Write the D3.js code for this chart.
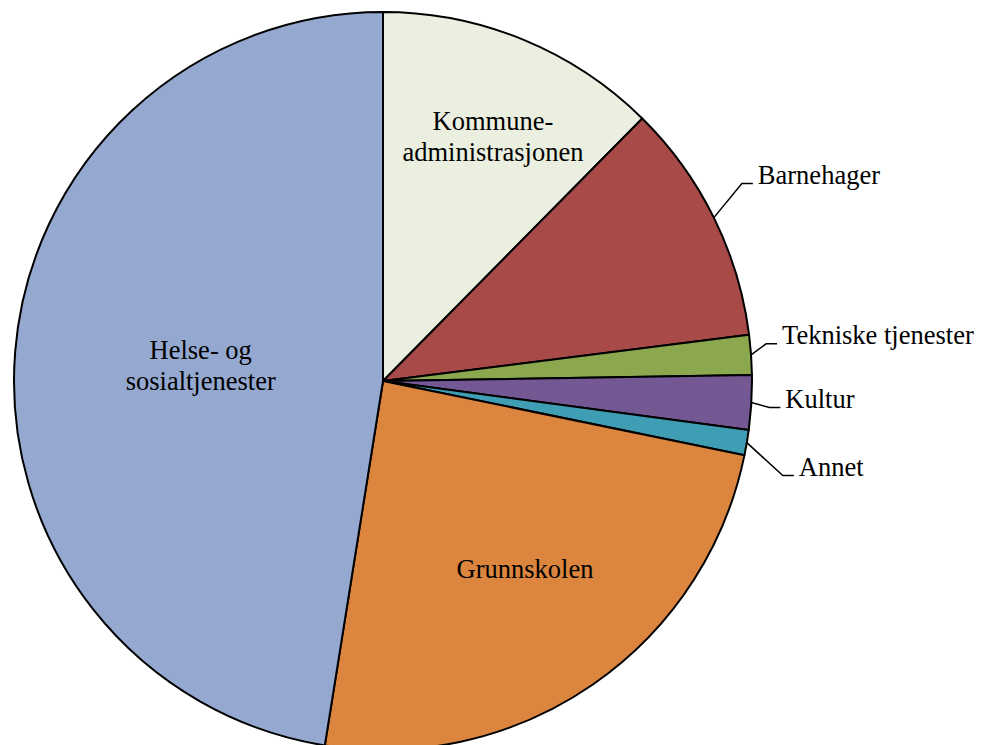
<!DOCTYPE html>
<html>
<head>
    <meta charset="utf-8" />
    <title>Utgifter per sektor</title>
    <script src="https://cdn.jsdelivr.net/npm/d3@7"></script>
    <style>
        body {
            margin: 0;
            background-color: white;
        }
        svg {
            display: block;
        }
        .slice path {
            stroke: black;
            stroke-width: 2px;
            stroke-linejoin: round;
        }
        .label {
            font-family: "Liberation Serif", "Times New Roman", serif;
            font-size: 26.5px;
            fill: black;
        }
        .leader {
            fill: none;
            stroke: black;
            stroke-width: 1.5px;
        }
    </style>
</head>
<body>
<div id="container"></div>
<script>

// data, clockwise from 12 o'clock (percent)
var categories = ["Kommune-administrasjonen", "Barnehager", "Tekniske tjenester", "Kultur", "Annet", "Grunnskolen", "Helse- og sosialtjenester"];
var values = [12.4, 10.6, 1.74, 2.38, 1.1, 24.3, 47.48];
var labelLines = [["Kommune-", "administrasjonen"], ["Barnehager"], ["Tekniske tjenester"], ["Kultur"], ["Annet"], ["Grunnskolen"], ["Helse- og", "sosialtjenester"]];
var colors = ["#EBEFDF", "#A84A47", "#8CA84F", "#735893", "#3F9DB4", "#DC853E", "#95A9D0"];

// label layout: inside labels are polar (angle shift in degrees, radius),
// outside labels are leader elbows relative to the arc point
var inside = {0: {da: 1.9, r: 268}, 5: {da: -2.5, r: 235}, 6: {da: 0.45, r: 183}};
var outside = {1: [28, -34], 2: [15, -11], 3: [18, 5], 4: [36, 33]};

var width = 985, height = 745;
var cx = 383, cy = 381, radius = 369;

var svg = d3.select("#container").append("svg")
        .attr("width", width)
        .attr("height", height);

var g = svg.append("g")
        .attr("transform", "translate(" + cx + "," + cy + ")");

var data = categories.map(function(c, i) {
    return {name: c, value: values[i], lines: labelLines[i], color: colors[i], index: i};
});

var pie = d3.pie().sort(null).value(function(d) { return d.value; });
var arc = d3.arc().innerRadius(0).outerRadius(radius);
var arcs = pie(data);

g.selectAll(".slice")
        .data(arcs)
        .enter().append("g")
        .attr("class", "slice")
        .append("path")
        .attr("d", arc)
        .attr("fill", function(d) { return d.data.color; });

var lineHeight = 31;

arcs.forEach(function(d) {
    var i = d.data.index;
    var mid = (d.startAngle + d.endAngle) / 2;
    if (inside[i]) {
        var p = inside[i];
        var a = mid + p.da * Math.PI / 180;
        var x = p.r * Math.sin(a), y = -p.r * Math.cos(a);
        var n = d.data.lines.length;
        var t = g.append("text")
                .attr("class", "label")
                .attr("text-anchor", "middle");
        d.data.lines.forEach(function(line, k) {
            t.append("tspan")
                    .attr("x", x)
                    .attr("y", y + (k - (n - 1) / 2) * lineHeight)
                    .attr("dy", "0.35em")
                    .text(line);
        });
    } else {
        var px = radius * Math.sin(mid), py = -radius * Math.cos(mid);
        var e = outside[i];
        var ex = px + e[0], ey = py + e[1];
        g.append("path")
                .attr("class", "leader")
                .attr("d", "M" + px + "," + py + "L" + ex + "," + ey + "L" + (ex + 11) + "," + ey);
        g.append("text")
                .attr("class", "label")
                .attr("x", ex + 16)
                .attr("y", ey)
                .text(d.data.lines[0]);
    }
});

</script>
</body>
</html>
